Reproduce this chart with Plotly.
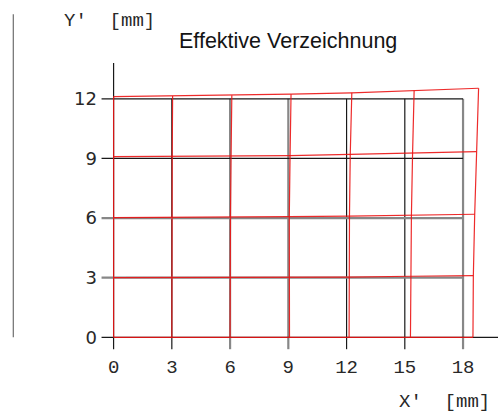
import plotly.graph_objects as go

# Nominal (undistorted) grid positions [mm]
grid_x = [0, 3, 6, 9, 12, 15, 18]
grid_y = [0, 3, 6, 9, 12]
x_tick_labels = ["0", "3", "6", "9", "12", "15", "18"]
y_tick_labels = ["0", "3", "6", "9", "12"]

# line style per nominal grid line: "k" dark, "g" grey
x_line_style = ["k", "k", "g", "g", "k", "k", "g"]
y_line_style = ["k", "g", "g", "k", "k"]

# Distorted (effective) grid node positions: rows = grid_y, cols = grid_x
red_x = [
    [0.0, 3.00, 6.00, 9.06, 12.13, 15.29, 18.51],
    [0.0, 3.00, 6.00, 9.05, 12.13, 15.31, 18.53],
    [0.0, 3.00, 6.02, 9.05, 12.15, 15.34, 18.60],
    [0.0, 3.02, 6.05, 9.09, 12.19, 15.40, 18.69],
    [0.0, 3.04, 6.09, 9.14, 12.27, 15.48, 18.80],
]
red_y = [
    [0.0, 0.00, 0.00, 0.00, 0.00, 0.00, 0.00],
    [3.0, 3.00, 3.00, 3.01, 3.03, 3.07, 3.10],
    [6.02, 6.03, 6.04, 6.07, 6.10, 6.13, 6.19],
    [9.09, 9.10, 9.11, 9.14, 9.20, 9.26, 9.34],
    [12.11, 12.14, 12.18, 12.23, 12.30, 12.41, 12.53],
]

X_MIN, X_MAX = -0.7, 19.8
Y_MIN, Y_MAX = -0.64, 13.8
TICK_X = -0.62   # extent of y ticks to the left
TICK_Y = -0.6    # extent of x ticks downward

styles = {"k": dict(color="rgb(25,25,25)", width=1.2),
          "g": dict(color="rgb(135,135,135)", width=2.2)}

fig = go.Figure()

# nominal grid (with tick marks)
for gx, st in zip(grid_x, x_line_style):
    top = Y_MAX if gx == 0 else grid_y[-1]
    fig.add_trace(go.Scatter(x=[gx, gx], y=[TICK_Y, top], mode="lines",
                             line=styles[st], hoverinfo="skip", showlegend=False))
for gy, st in zip(grid_y, y_line_style):
    right = X_MAX if gy == 0 else grid_x[-1]
    fig.add_trace(go.Scatter(x=[TICK_X, right], y=[gy, gy], mode="lines",
                             line=styles[st], hoverinfo="skip", showlegend=False))

# distorted grid
rx, ry = [], []
for r in range(len(grid_y)):
    rx += red_x[r] + [None]
    ry += red_y[r] + [None]
for c in range(len(grid_x)):
    rx += [red_x[r][c] for r in range(len(grid_y))] + [None]
    ry += [red_y[r][c] for r in range(len(grid_y))] + [None]
fig.add_trace(go.Scatter(x=rx, y=ry, mode="lines",
                         line=dict(color="rgba(235,20,20,0.9)", width=1.2),
                         hoverinfo="skip", showlegend=False))

mono = "Liberation Mono, Courier New, monospace"
sans = "DejaVu Sans, sans-serif"

fig.update_layout(
    width=503, height=412,
    margin=dict(l=100, r=5, t=63, b=62),
    paper_bgcolor="white", plot_bgcolor="white",
    xaxis=dict(range=[X_MIN, X_MAX], showgrid=False, zeroline=False, showline=False,
               ticks="", tickvals=grid_x, ticktext=x_tick_labels,
               tickfont=dict(family=mono, size=19, color="rgb(40,40,40)"),
               ticklabelstandoff=3, fixedrange=True),
    yaxis=dict(range=[Y_MIN, Y_MAX], showgrid=False, zeroline=False, showline=False,
               ticks="", tickvals=grid_y, ticktext=y_tick_labels,
               tickfont=dict(family=sans, size=18, color="rgb(40,40,40)"),
               ticklabelstandoff=2, fixedrange=True),
    annotations=[
        dict(text="Effektive Verzeichnung", xref="paper", yref="paper",
             x=(287.5 - 100) / 398, y=(350 - 41) / 287.3, xanchor="center", yanchor="middle",
             showarrow=False, font=dict(family="Liberation Sans, Arial, sans-serif", size=21.5, color="rgb(20,20,20)")),
        dict(text="Y'  [mm]", xref="paper", yref="paper",
             x=(109 - 100) / 398, y=(350 - 21) / 287.3, xanchor="center", yanchor="middle",
             showarrow=False, font=dict(family=mono, size=19, color="rgb(40,40,40)")),
        dict(text="X'  [mm]", xref="paper", yref="paper",
             x=(444 - 100) / 398, y=(350 - 402) / 287.3, xanchor="center", yanchor="middle",
             showarrow=False, font=dict(family=mono, size=19, color="rgb(40,40,40)")),
    ],
    shapes=[
        dict(type="line", xref="paper", yref="paper",
             x0=(13.3 - 100) / 398, x1=(13.3 - 100) / 398,
             y0=(350 - 337.3) / 287.3, y1=(350 - 14) / 287.3,
             line=dict(color="rgb(110,110,110)", width=1.2)),
    ],
)

fig.write_html("out.html", config={"displayModeBar": False},
               post_script="document.body.style.margin='0';document.body.style.overflow='hidden';")
